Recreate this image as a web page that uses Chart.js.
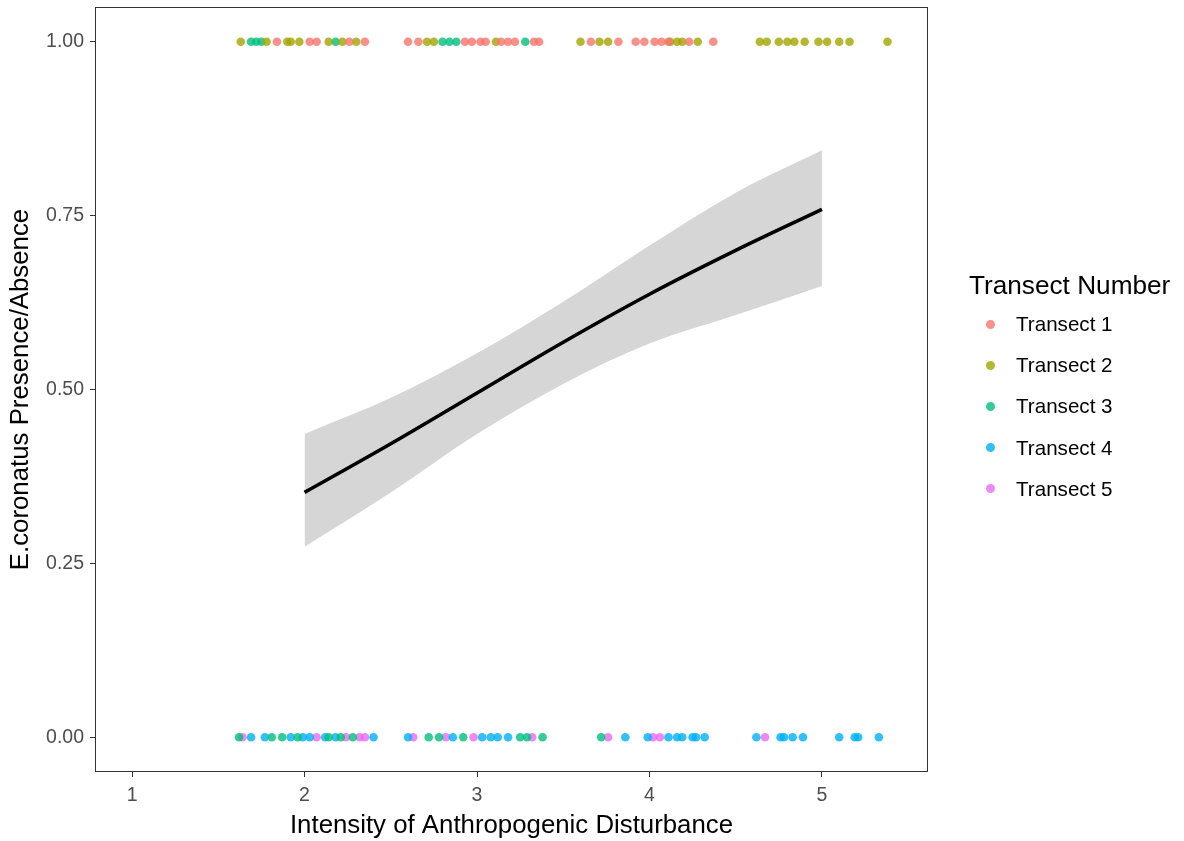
<!DOCTYPE html>
<html>
<head>
<meta charset="utf-8">
<script src="https://cdn.jsdelivr.net/npm/chart.js@4.4.1/dist/chart.umd.min.js"></script>
<style>
  html, body { margin: 0; padding: 0; background: #ffffff; }
  #wrap { position: relative; width: 1184px; height: 841px; }
  #plot { position: absolute; left: 0; top: 0; }
  .legend-title { position: absolute; font: 26.2px "Liberation Sans", Arial, sans-serif; color: #000; white-space: nowrap; line-height: 30px; }
  .legend-item { position: absolute; font: 20.6px "Liberation Sans", Arial, sans-serif; color: #000; white-space: nowrap; line-height: 24px; }
  .legend-dot { position: absolute; width: 9px; height: 9px; border-radius: 50%; opacity: 0.8; }
</style>
</head>
<body>
<div id="wrap">
  <canvas id="plot" width="1184" height="841"></canvas>
  <div id="legend"></div>
</div>
<script>
// Transects and their observations (x = disturbance intensity)
const transectNames = ['Transect 1', 'Transect 2', 'Transect 3', 'Transect 4', 'Transect 5'];

// present (y = 1)
const t1Present = [1.84, 2.03, 2.07, 2.26, 2.35, 2.60, 2.66, 2.93, 2.97, 3.02, 3.05, 3.14, 3.18, 3.22, 3.33, 3.36,
                   3.66, 3.82, 3.92, 3.97, 4.03, 4.07, 4.11, 4.23, 4.37];
const t2Present = [1.63, 1.78, 1.90, 1.92, 1.97, 2.14, 2.22, 2.30, 2.71, 2.75, 3.11, 3.60, 3.71, 3.76, 4.12, 4.16,
                   4.19, 4.28, 4.64, 4.68, 4.75, 4.80, 4.84, 4.90, 4.98, 5.03, 5.10, 5.16, 5.38];
const t3Present = [1.69, 1.72, 1.75, 2.18, 2.80, 2.84, 2.88, 3.28];
const t4Present = [];
const t5Present = [];

// absent (y = 0)
const t1Absent = [];
const t2Absent = [];
const t3Absent = [1.62, 1.81, 1.87, 1.96, 2.14, 2.21, 2.28, 2.72, 2.78, 2.92, 3.25, 3.29, 3.38, 3.72];
const t4Absent = [1.69, 1.77, 1.92, 1.99, 2.03, 2.12, 2.18, 2.40, 2.60, 2.86, 3.03, 3.08, 3.12, 3.18, 3.86, 3.99,
                  4.11, 4.16, 4.19, 4.25, 4.27, 4.32, 4.62, 4.76, 4.78, 4.83, 4.89, 5.10, 5.19, 5.21, 5.33];
const t5Absent = [1.64, 2.07, 2.24, 2.32, 2.35, 2.63, 2.82, 2.98, 3.32, 3.76, 4.02, 4.06, 4.67];

// fitted logistic curve and its confidence band
const fitX     = [2.0, 2.5, 3.0, 3.5, 4.0, 4.5, 5.0];
const fitY     = [0.352, 0.422, 0.495, 0.568, 0.637, 0.700, 0.759];
const fitUpper = [0.436, 0.488, 0.552, 0.626, 0.707, 0.783, 0.844];
const fitLower = [0.274, 0.352, 0.436, 0.508, 0.566, 0.607, 0.649];

// axis ticks
const xTicks = [1, 2, 3, 4, 5];
const yTicks = [0, 0.25, 0.5, 0.75, 1];

// ggplot-style hue palette
const palette = ['#F8766D', '#A3A500', '#00BF7D', '#00B0F6', '#E76BF3'];
const presentSets = [t1Present, t2Present, t3Present, t4Present, t5Present];
const absentSets = [t1Absent, t2Absent, t3Absent, t4Absent, t5Absent];

function withAlpha(hex, a) {
  const n = parseInt(hex.slice(1), 16);
  return `rgba(${(n >> 16) & 255},${(n >> 8) & 255},${n & 255},${a})`;
}

const FONT = '"Liberation Sans", Arial, sans-serif';

const datasets = [
  {
    label: 'upper',
    data: fitX.map((x, i) => ({ x, y: fitUpper[i] })),
    showLine: true, pointRadius: 0, borderWidth: 0,
    borderColor: 'rgba(0,0,0,0)',
    backgroundColor: '#d6d6d6',
    fill: '+1', cubicInterpolationMode: 'monotone', order: 3
  },
  {
    label: 'lower',
    data: fitX.map((x, i) => ({ x, y: fitLower[i] })),
    showLine: true, pointRadius: 0, borderWidth: 0,
    borderColor: 'rgba(0,0,0,0)',
    fill: false, cubicInterpolationMode: 'monotone', order: 3
  },
  {
    label: 'fit',
    data: fitX.map((x, i) => ({ x, y: fitY[i] })),
    showLine: true, pointRadius: 0, borderWidth: 3.6,
    borderColor: '#000000', fill: false,
    cubicInterpolationMode: 'monotone', order: 0
  }
];

transectNames.forEach((name, i) => {
  const pts = presentSets[i].map(x => ({ x, y: 1 }))
    .concat(absentSets[i].map(x => ({ x, y: 0 })));
  datasets.push({
    label: name,
    data: pts,
    showLine: false,
    pointRadius: 4.3,
    pointHoverRadius: 4.3,
    pointBorderWidth: 0,
    pointBackgroundColor: withAlpha(palette[i], 0.8),
    pointBorderColor: 'rgba(0,0,0,0)',
    order: 1
  });
});

// panel border drawn around the plotting area
const panelBorder = {
  id: 'panelBorder',
  afterDraw(chart) {
    const { ctx, chartArea: a } = chart;
    ctx.save();
    ctx.strokeStyle = '#333333';
    ctx.lineWidth = 1;
    ctx.strokeRect(Math.round(a.left) + 0.5, Math.round(a.top) + 0.5,
                   Math.round(a.right - a.left) - 1, Math.round(a.bottom - a.top) - 1);
    ctx.restore();
  }
};

new Chart(document.getElementById('plot'), {
  type: 'scatter',
  data: { datasets },
  plugins: [panelBorder],
  options: {
    responsive: false,
    animation: false,
    devicePixelRatio: 1,
    layout: { padding: { left: 0, top: 7, right: 256, bottom: 0 } },
    plugins: { legend: { display: false }, tooltip: { enabled: false } },
    scales: {
      x: {
        type: 'linear', min: 0.785, max: 5.615,
        afterBuildTicks(s) { s.ticks = xTicks.map(v => ({ value: v })); },
        afterFit(s) { s.height = 69; s.paddingLeft = 0; s.paddingRight = 0; },
        grid: { display: true, drawOnChartArea: false, drawTicks: true, tickLength: 5, tickColor: '#333333', tickWidth: 1 },
        border: { display: false },
        ticks: { color: '#4d4d4d', font: { family: FONT, size: 19.5 }, padding: 7, maxRotation: 0,
                 callback: v => String(v) },
        title: { display: true, text: 'Intensity of Anthropogenic Disturbance', color: '#000',
                 font: { family: FONT, size: 25.8 }, padding: { top: 0, bottom: 0 } }
      },
      y: {
        type: 'linear', min: -0.05, max: 1.05,
        afterBuildTicks(s) { s.ticks = yTicks.map(v => ({ value: v })); },
        afterFit(s) { s.width = 95; s.paddingTop = 0; s.paddingBottom = 0; },
        grid: { display: true, drawOnChartArea: false, drawTicks: true, tickLength: 5, tickColor: '#333333', tickWidth: 1 },
        border: { display: false },
        ticks: { color: '#4d4d4d', font: { family: FONT, size: 19.5 }, padding: 6,
                 callback: v => Number(v).toFixed(2) },
        title: { display: true, text: 'E.coronatus Presence/Absence', color: '#000',
                 font: { family: FONT, size: 25.8 }, padding: { top: 5, bottom: 0 } }
      }
    }
  }
});

// legend
const legend = document.getElementById('legend');
const title = document.createElement('div');
title.className = 'legend-title';
title.textContent = 'Transect Number';
title.style.left = '969px';
title.style.top = '270px';
legend.appendChild(title);
transectNames.forEach((name, i) => {
  const cy = 324 + i * 41.2;
  const dot = document.createElement('div');
  dot.className = 'legend-dot';
  dot.style.background = palette[i];
  dot.style.left = (990 - 4.5) + 'px';
  dot.style.top = (cy - 4.5) + 'px';
  legend.appendChild(dot);
  const item = document.createElement('div');
  item.className = 'legend-item';
  item.textContent = name;
  item.style.left = '1016px';
  item.style.top = (cy - 12) + 'px';
  legend.appendChild(item);
});
</script>
</body>
</html>
